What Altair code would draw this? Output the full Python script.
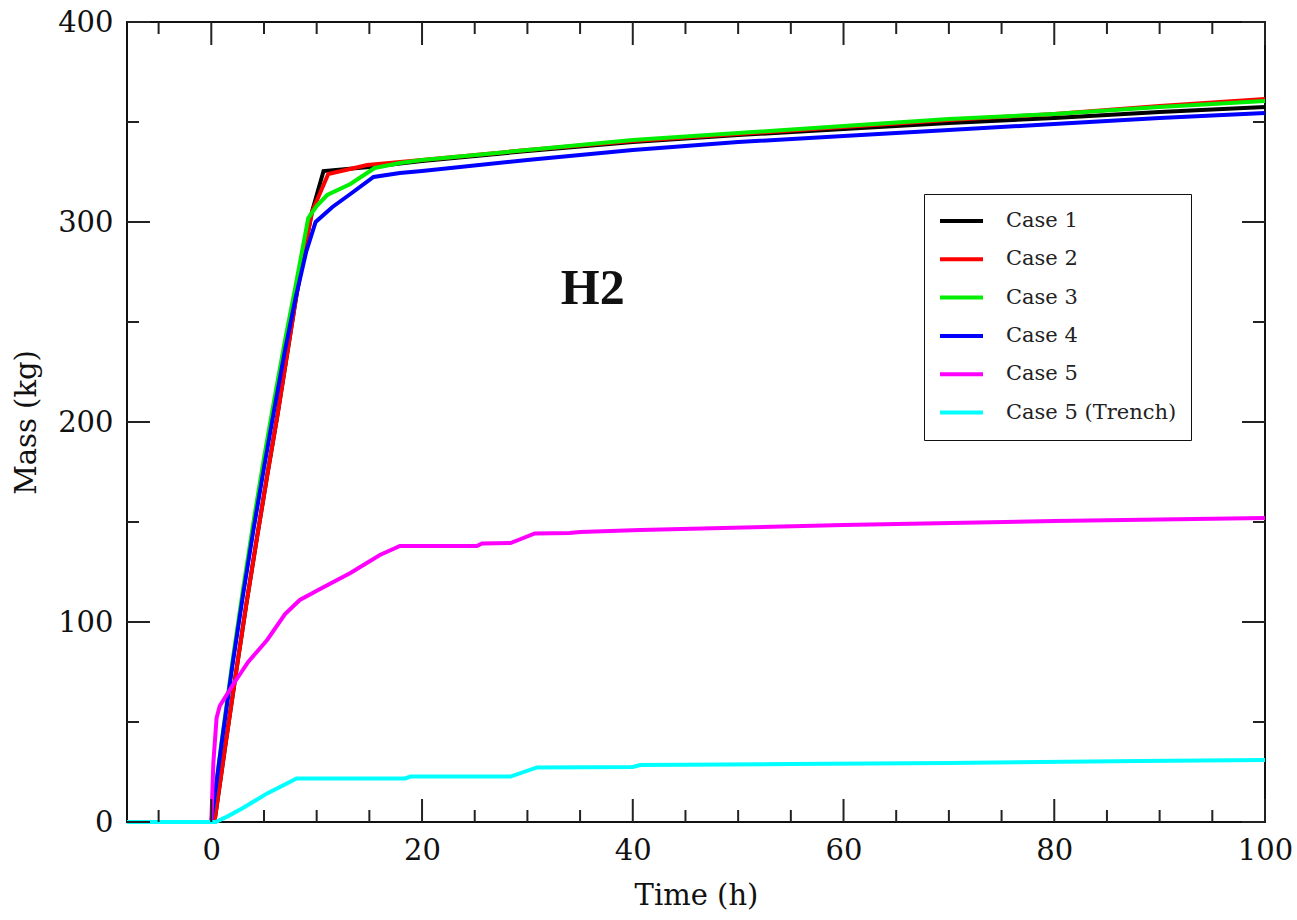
import altair as alt
import pandas as pd

# ---- data ----
case_names = ["Case 1", "Case 2", "Case 3", "Case 4", "Case 5", "Case 5 (Trench)"]
case_colors = ["#000000", "#ff0000", "#00ee00", "#0000ff", "#ff00ff", "#00ffff"]

t_case1 = [-8, 0.3, 1.3, 2.3, 3.3, 4.3, 5.3, 6.3, 7.2, 8.1, 9.0, 9.55, 10.65, 15, 20, 30, 40, 50, 60, 70, 80, 90, 100]
m_case1 = [0, 0, 37, 73, 108, 141, 173, 204, 234, 264, 290, 305, 325.5, 327.5, 330.5, 335.5, 340, 343.5, 346.5, 349.5, 352, 355, 357.5]

t_case2 = [-8, 0.3, 1.3, 2.3, 3.3, 4.3, 5.3, 6.3, 7.2, 8.1, 9.0, 9.55, 11.1, 14.8, 20, 30, 40, 50, 60, 70, 80, 90, 100]
m_case2 = [0, 0, 37, 73, 108, 141, 173, 204, 234, 264, 290, 305, 324, 328.5, 331, 336, 340.5, 344, 347.5, 351, 354, 358, 361.5]

t_case3 = [-8, 0, 1, 2, 3, 4, 5, 6, 7, 8, 9.2, 10, 11, 13.2, 15.5, 17.9, 20, 30, 40, 50, 60, 70, 80, 90, 100]
m_case3 = [0, 0, 41, 80, 116, 150, 182, 212, 241, 268, 302, 308, 313.5, 319, 327, 329.5, 331, 336, 341, 344.5, 348, 351.5, 354, 357.5, 360.5]

t_case4 = [-8, 0, 1, 2, 3, 4, 5, 6, 7, 8, 9, 9.9, 11.5, 13.2, 15.4, 17.9, 20, 30, 40, 50, 60, 70, 80, 90, 100]
m_case4 = [0, 0, 40, 78, 113, 146, 177, 207, 236, 262, 285, 300, 307.5, 314, 322.5, 324.5, 325.5, 331, 336, 340, 343, 346, 349, 352, 354.5]

t_case5 = [-8, 0, 0.2, 0.5, 0.8, 2.1, 3.5, 5.3, 7, 8.4, 10.5, 13.2, 16, 17.9, 25.2, 25.7, 28.4, 30.7, 34, 35, 40.7, 60, 80, 100]
m_case5 = [0, 0, 30, 52, 58, 69, 80, 91, 104, 111, 117, 124.5, 133.5, 138, 138, 139.3, 139.5, 144.3, 144.5, 145, 146, 148.5, 150.5, 152]

t_case5t = [-8, 0.4, 1.5, 3, 5.3, 8.1, 18.4, 18.9, 28.4, 30.9, 40, 40.7, 55, 70, 88, 100]
m_case5t = [0, 0, 2.7, 7, 14.3, 21.8, 21.8, 22.7, 22.7, 27.3, 27.5, 28.5, 29, 29.5, 30.5, 31]

x_major = [0, 20, 40, 60, 80, 100]
x_minor = [-5, 5, 10, 15, 25, 30, 35, 45, 50, 55, 65, 70, 75, 85, 90, 95]
y_major = [0, 100, 200, 300, 400]
y_minor = [50, 150, 250, 350]

label_text = ["H2"]
label_x = [36.2]
label_y = [266.5]

# ---- tables ----
series = [t_case1, t_case2, t_case3, t_case4, t_case5, t_case5t]
values = [m_case1, m_case2, m_case3, m_case4, m_case5, m_case5t]
rows = []
for i, (name, ts, ms) in enumerate(zip(case_names, series, values)):
    for j, (t, m) in enumerate(zip(ts, ms)):
        rows.append({"case": name, "order": i, "idx": j, "t": t, "m": m})
df = pd.DataFrame(rows)

W, H = 1138, 800
FONT = "DejaVu Serif"
TICK_COLOR = "#222222"

xscale = alt.Scale(domain=[-8, 100], nice=False, zero=False)
yscale = alt.Scale(domain=[0, 400], nice=False, zero=False)

xaxis = alt.Axis(values=x_major, title="Time (h)", ticks=False, domain=False, grid=False,
                 labelFont=FONT, labelFontSize=29, labelColor="#111", labelPadding=14,
                 titleFont=FONT, titleFontSize=29, titleFontWeight="normal", titleColor="#111",
                 titlePadding=16, labelFlush=False)
yaxis = alt.Axis(values=y_major, title="Mass (kg)", ticks=False, domain=False, grid=False,
                 labelFont=FONT, labelFontSize=29, labelColor="#111", labelPadding=14,
                 titleFont=FONT, titleFontSize=29, titleFontWeight="normal", titleColor="#111",
                 titlePadding=16, labelFlush=False)

lines = alt.Chart(df).mark_line(strokeWidth=4).encode(
    x=alt.X("t:Q", scale=xscale, axis=xaxis, title="Time (h)"),
    y=alt.Y("m:Q", scale=yscale, axis=yaxis, title="Mass (kg)"),
    color=alt.Color("case:N", scale=alt.Scale(domain=case_names, range=case_colors),
                    legend=alt.Legend(orient="none", legendX=797, legendY=172, title=None,
                                      symbolType="stroke", symbolSize=1849, symbolStrokeWidth=4,
                                      labelFont=FONT, labelFontSize=21, labelColor="#222",
                                      labelOffset=21, rowPadding=12.3, clipHeight=26, padding=14,
                                      labelLimit=400, strokeColor="#111", fillColor="white")),
    detail="order:O",
    order="idx:Q",
)

label_df = pd.DataFrame({"t": label_x, "m": label_y, "text": label_text})
h2 = alt.Chart(label_df).mark_text(font="Liberation Serif", fontWeight="bold", fontSize=50,
                                   align="center", baseline="middle", color="#111").encode(
    x=alt.X("t:Q", scale=xscale, title="Time (h)"),
    y=alt.Y("m:Q", scale=yscale, title="Mass (kg)"),
    text="text:N",
)

def xticks(vals, length):
    d = pd.DataFrame({"t": vals})
    base = alt.Chart(d).mark_rule(color=TICK_COLOR, strokeWidth=2)
    bottom = base.encode(x=alt.X("t:Q", scale=xscale, title="Time (h)"), y=alt.value(H), y2=alt.value(H - length))
    top = base.encode(x=alt.X("t:Q", scale=xscale, title="Time (h)"), y=alt.value(0), y2=alt.value(length))
    return [bottom, top]

def yticks(vals, length):
    d = pd.DataFrame({"m": vals})
    base = alt.Chart(d).mark_rule(color=TICK_COLOR, strokeWidth=2)
    left = base.encode(y=alt.Y("m:Q", scale=yscale, title="Mass (kg)"), x=alt.value(0), x2=alt.value(length))
    right = base.encode(y=alt.Y("m:Q", scale=yscale, title="Mass (kg)"), x=alt.value(W), x2=alt.value(W - length))
    return [left, right]

tick_layers = xticks(x_major, 23) + xticks(x_minor, 12) + yticks(y_major, 23) + yticks(y_minor, 12)

chart = alt.layer(lines, h2, *tick_layers).properties(
    width=W, height=H,
    autosize=alt.AutoSizeParams(type="none"),
    padding={"left": 127, "top": 22, "right": 32, "bottom": 98},
    background="white",
).configure_view(stroke="#111", strokeWidth=2)

chart.save("out.html", embed_options={"renderer": "svg", "actions": False})
